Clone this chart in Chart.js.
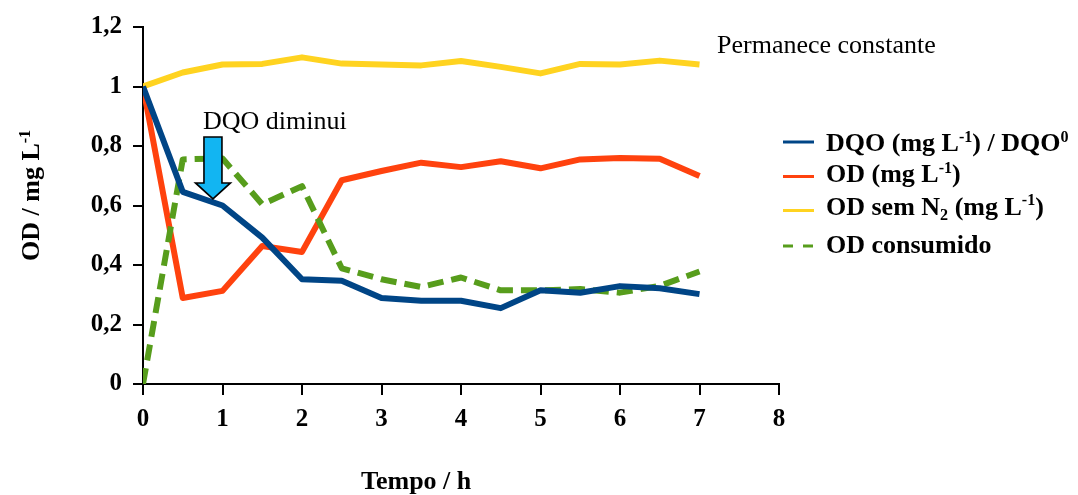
<!DOCTYPE html>
<html>
<head>
<meta charset="utf-8">
<script src="https://cdn.jsdelivr.net/npm/chart.js@4.4.1/dist/chart.umd.min.js"></script>
<style>
  html, body { margin: 0; padding: 0; background: #ffffff; }
  canvas { display: block; }
</style>
</head>
<body>
<canvas id="chart" width="1078" height="495"></canvas>
<script>
// Time (h) of each sample
const tempo = [0, 0.5, 1, 1.5, 2, 2.5, 3, 3.5, 4, 4.5, 5, 5.5, 6, 6.5, 7];

// DQO normalised by the initial DQO
const dqo = [1.0, 0.646, 0.600, 0.492, 0.352, 0.347, 0.289, 0.280, 0.280, 0.255, 0.315, 0.307, 0.329, 0.322, 0.302];
// Dissolved oxygen (mg L-1)
const od = [1.0, 0.289, 0.313, 0.464, 0.444, 0.685, 0.716, 0.744, 0.729, 0.749, 0.725, 0.755, 0.760, 0.757, 0.699];
// Dissolved oxygen without N2 (mg L-1)
const odSemN2 = [1.0, 1.047, 1.074, 1.076, 1.098, 1.077, 1.074, 1.071, 1.086, 1.066, 1.044, 1.076, 1.074, 1.087, 1.074];
// Oxygen consumed
const odConsumido = [0, 0.755, 0.758, 0.604, 0.665, 0.389, 0.352, 0.326, 0.358, 0.315, 0.315, 0.319, 0.307, 0.330, 0.378];

// Axis ranges
const xTicksMin = 0, xTicksMax = 8, xStep = 1;
const yTicksMin = 0, yTicksMax = 1.2, yStep = 0.2;

// Where the "DQO diminui" arrow points (time, value)
const arrowTip = { x: 0.88, y: 0.622 };

const SERIF = '"Liberation Serif", "Times New Roman", serif';
const COLORS = { dqo: '#004586', od: '#ff420e', semN2: '#ffd320', cons: '#579d1c' };

const toPoints = ys => ys.map((y, i) => ({ x: tempo[i], y }));

// Draws text made of runs, some raised (sup) or lowered (sub)
function drawRich(ctx, x, y, parts, size, weight) {
  let cx = x;
  ctx.textAlign = 'left';
  ctx.textBaseline = 'alphabetic';
  for (const [t, mode] of parts) {
    let s = size, dy = 0;
    if (mode === 'sup') { s = size * 0.62; dy = -size * 0.36; }
    if (mode === 'sub') { s = size * 0.62; dy = size * 0.2; }
    ctx.font = `${weight} ${s}px ${SERIF}`;
    ctx.fillText(t, cx, y + dy);
    cx += ctx.measureText(t).width;
  }
  return cx;
}

const legendRows = [
  { color: COLORS.dqo, dash: null, y: 142, base: 151,
    parts: [['DQO (mg L', ''], ['-1', 'sup'], [') / DQO', ''], ['0', 'sup']] },
  { color: COLORS.od, dash: null, y: 176.5, base: 182,
    parts: [['OD (mg L', ''], ['-1', 'sup'], [')', '']] },
  { color: COLORS.semN2, dash: null, y: 210.5, base: 214.5,
    parts: [['OD sem N', ''], ['2', 'sub'], [' (mg L', ''], ['-1', 'sup'], [')', '']] },
  { color: COLORS.cons, dash: [10, 10], y: 246, base: 253,
    parts: [['OD consumido', '']] }
];

const decorations = {
  id: 'decorations',
  afterDraw(chart) {
    const ctx = chart.ctx;
    const xs = chart.scales.x, ys = chart.scales.y;
    ctx.save();
    ctx.fillStyle = '#000';

    // Legend
    for (const r of legendRows) {
      ctx.save();
      ctx.strokeStyle = r.color;
      ctx.lineWidth = 3;
      ctx.setLineDash(r.dash || []);
      ctx.beginPath();
      ctx.moveTo(783, r.y);
      ctx.lineTo(814, r.y);
      ctx.stroke();
      ctx.restore();
      drawRich(ctx, 826, r.base, r.parts, 26, 'bold');
    }

    // Axis titles
    drawRich(ctx, 361, 489, [['Tempo / h', '']], 26, 'bold');
    ctx.save();
    ctx.translate(39, 261);
    ctx.rotate(-Math.PI / 2);
    drawRich(ctx, 0, 0, [['OD / mg L', ''], ['-1', 'sup']], 26, 'bold');
    ctx.restore();

    // Annotations
    drawRich(ctx, 717, 53, [['Permanece constante', '']], 26, 'normal');
    drawRich(ctx, 203, 129, [['DQO diminui', '']], 26, 'normal');

    // Block arrow pointing down at the DQO curve
    const tx = xs.getPixelForValue(arrowTip.x);
    const ty = ys.getPixelForValue(arrowTip.y);
    const shaftHalf = 9, headHalf = 17.5, headLen = 16, total = 62;
    ctx.beginPath();
    ctx.moveTo(tx - shaftHalf, ty - total);
    ctx.lineTo(tx + shaftHalf, ty - total);
    ctx.lineTo(tx + shaftHalf, ty - headLen);
    ctx.lineTo(tx + headHalf, ty - headLen);
    ctx.lineTo(tx, ty);
    ctx.lineTo(tx - headHalf, ty - headLen);
    ctx.lineTo(tx - shaftHalf, ty - headLen);
    ctx.closePath();
    ctx.fillStyle = '#12b5f2';
    ctx.fill();
    ctx.strokeStyle = '#000';
    ctx.lineWidth = 1.6;
    ctx.lineJoin = 'miter';
    ctx.stroke();

    ctx.restore();
  }
};

const lineStyle = { pointRadius: 0, borderWidth: 6, tension: 0, fill: false,
                    borderJoinStyle: 'round', borderCapStyle: 'butt' };

const tickFont = { family: SERIF, size: 25, weight: 'bold' };

new Chart(document.getElementById('chart'), {
  type: 'line',
  data: {
    datasets: [
      { label: 'DQO (mg L-1) / DQO0', data: toPoints(dqo), borderColor: COLORS.dqo, order: 0, ...lineStyle },
      { label: 'OD consumido', data: toPoints(odConsumido), borderColor: COLORS.cons, borderDash: [16, 8], order: 1, ...lineStyle },
      { label: 'OD (mg L-1)', data: toPoints(od), borderColor: COLORS.od, order: 2, ...lineStyle },
      { label: 'OD sem N2 (mg L-1)', data: toPoints(odSemN2), borderColor: COLORS.semN2, order: 3, ...lineStyle }
    ]
  },
  options: {
    responsive: false,
    animation: false,
    layout: { padding: { top: 27, right: 299, left: 0, bottom: 0 } },
    plugins: { legend: { display: false }, tooltip: { enabled: false } },
    scales: {
      x: {
        type: 'linear', min: xTicksMin, max: xTicksMax,
        ticks: { stepSize: xStep, color: '#000', font: tickFont, padding: 10, maxRotation: 0 },
        grid: { drawOnChartArea: false, drawTicks: true, tickLength: 11, color: '#000', lineWidth: 2 },
        border: { color: '#000', width: 2 },
        afterFit(scale) { scale.height = 111; }
      },
      y: {
        min: yTicksMin, max: yTicksMax,
        ticks: { stepSize: yStep, color: '#000', font: tickFont, padding: 11,
                 callback: v => (Math.round(v * 10) / 10).toString().replace('.', ',') },
        grid: { drawOnChartArea: false, drawTicks: true, tickLength: 10, color: '#000', lineWidth: 2 },
        border: { color: '#000', width: 2 },
        afterFit(scale) { scale.width = 143; }
      }
    }
  },
  plugins: [decorations]
});
</script>
</body>
</html>
